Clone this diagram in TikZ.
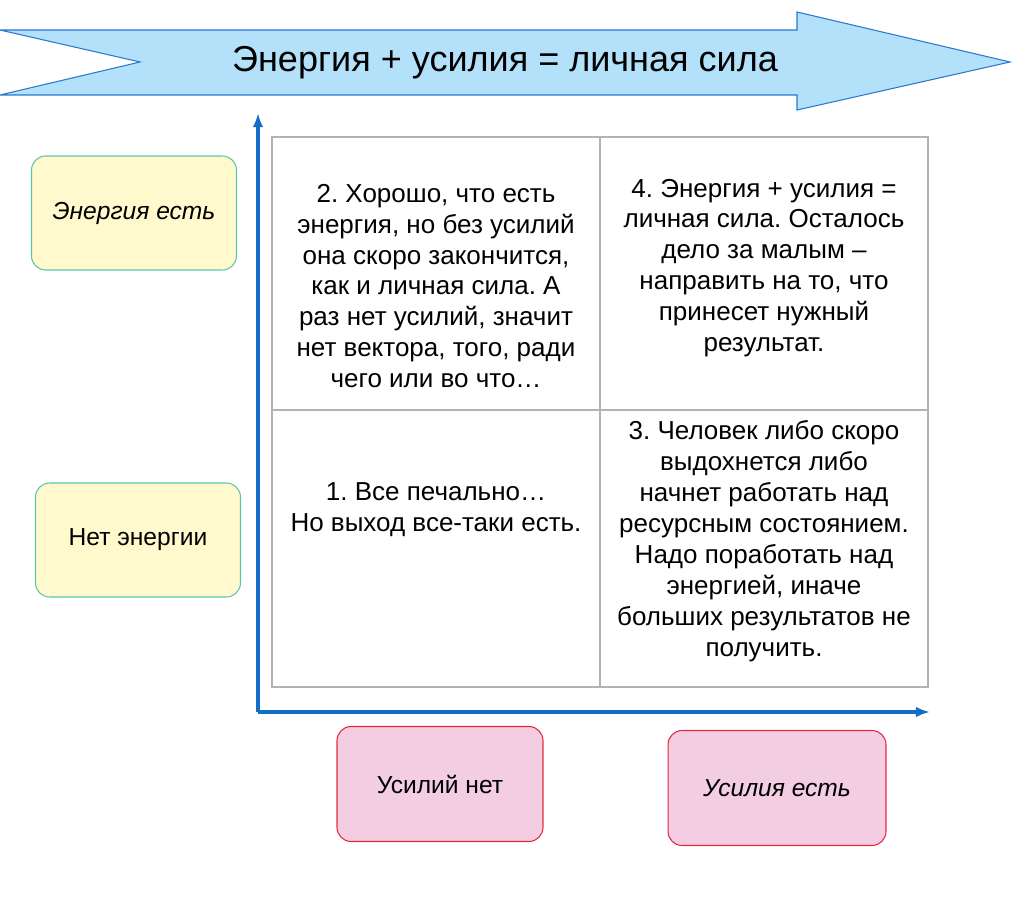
\documentclass[tikz,border=0pt]{standalone}
\usepackage{fontspec}
\setmainfont{Liberation Sans}
\frenchspacing
\usetikzlibrary{arrows.meta}
\definecolor{bandfill}{RGB}{180,225,250}
\definecolor{bandline}{RGB}{40,120,210}
\definecolor{axisblue}{RGB}{20,110,200}
\definecolor{yelfill}{RGB}{255,249,205}
\definecolor{yelline}{RGB}{90,200,170}
\definecolor{pinkfill}{RGB}{243,205,225}
\definecolor{pinkline}{RGB}{230,40,60}

\begin{document}
\begin{tikzpicture}[x=0.02cm,y=-0.02cm,
    cell/.style={align=center,font=\fontsize{14.8}{17.6}\selectfont,inner sep=0pt},
    energybox/.style={draw=yelline,fill=yelfill,rounded corners=8pt,line width=0.6pt,
        minimum width=4.1cm,minimum height=2.28cm,font=\fontsize{14}{16}\selectfont},
    effortbox/.style={draw=pinkline,fill=pinkfill,rounded corners=8pt,line width=0.6pt,
        minimum width=4.12cm,minimum height=2.3cm,font=\fontsize{14}{16}\selectfont},
    axis/.style={draw=axisblue,line width=1.8pt,-{Latex[length=8pt,width=6pt]}}]
    \useasboundingbox (0,0) rectangle (1024,905);
    % top band
    \draw[bandline,fill=bandfill,line width=0.6pt]
        (0,30) -- (797,30) -- (797,12) -- (1010,62) -- (797,110) -- (797,95)
        -- (0,95) -- (140,62) -- cycle;
    \node[font=\fontsize{20.5}{24}\selectfont] (title) at (505,63) {Энергия + усилия = личная сила};
    % grid
    \draw[gray!60,line width=0.7pt] (272,137) rectangle (928,687)
        (600,137) -- (600,687) (272,410) -- (928,410);
    % axes
    \coordinate (origin) at (258,712);
    \coordinate (ytop) at (258,113);
    \coordinate (xend) at (930,712);
    \draw[axis] (origin) -- (ytop);
    \draw[axis] (origin) -- (xend);
    % cells
    \node[cell] (c2) at (436,286) {2. Хорошо, что есть\\энергия, но без усилий\\она скоро закончится,\\как и личная сила. А\\раз нет усилий, значит\\нет вектора, того, ради\\чего или во что…};
    \node[cell] (c4) at (764,268) {4. Энергия + усилия =\\личная сила. Осталось\\дело за малым –\\направить на то, что\\принесет нужный\\результат.};
    \node[cell] (c1) at (436,510) {1. Все печально…\\Но выход все-таки есть.};
    \node[cell] (c3) at (764,541) {3. Человек либо скоро\\выдохнется либо\\начнет работать над\\ресурсным состоянием.\\Надо поработать над\\энергией, иначе\\больших результатов не\\получить.};
    % labels
    \node[energybox] (yes) at (134,213) {\itshape Энергия есть};
    \node[energybox] (no) at (138,540) {Нет энергии};
    \node[effortbox] (noeff) at (440,784) {Усилий нет};
    \node[effortbox,minimum width=4.36cm] (eff) at (777,788) {\itshape Усилия есть};
\end{tikzpicture}
\end{document}
